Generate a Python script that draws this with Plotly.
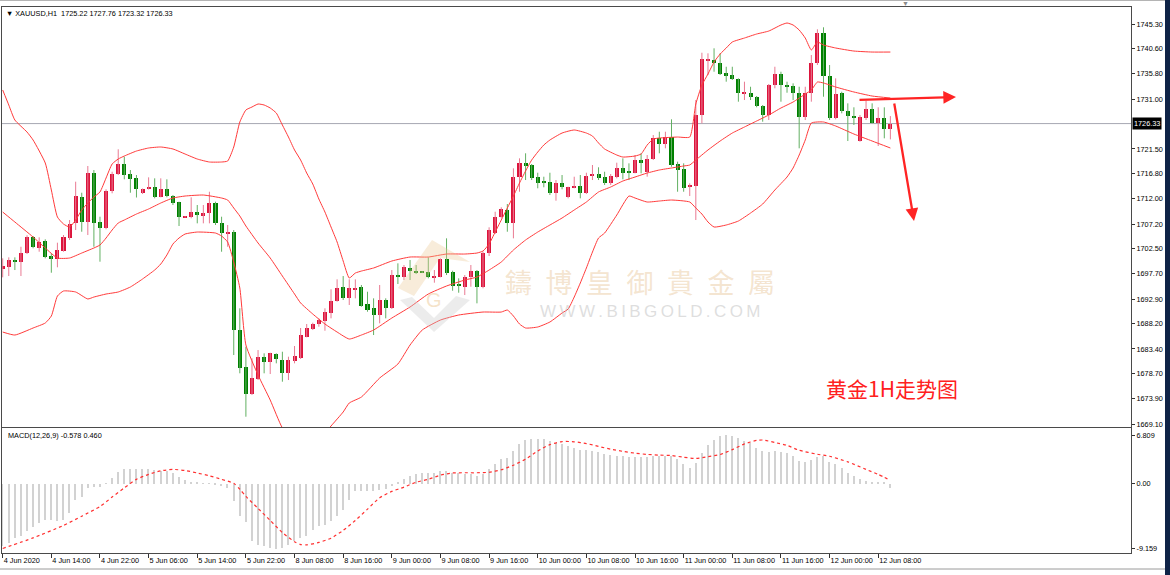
import plotly.graph_objects as go

# ---------------- data (XAUUSD H1) ----------------
opens = [1698.57, 1699.06, 1700.34, 1699.96, 1701.62, 1704.66, 1702.68, 1703.90, 1701.10, 1700.47,
         1702.11, 1704.47, 1707.45, 1712.40, 1707.64, 1716.86, 1707.58, 1706.49, 1713.54, 1716.72,
         1718.63, 1716.72, 1715.90, 1713.05, 1713.87, 1714.19, 1712.40, 1713.87, 1712.53, 1711.33,
         1708.47, 1708.47, 1709.54, 1708.78, 1709.24, 1711.14, 1707.33, 1705.43, 1705.73, 1687.00,
         1679.90, 1674.81, 1677.61, 1681.92, 1680.85, 1682.43, 1681.29, 1678.87, 1681.16, 1681.61,
         1685.73, 1687.25, 1688.15, 1688.78, 1690.30, 1692.59, 1695.14, 1693.04, 1694.76, 1695.14,
         1691.96, 1691.14, 1689.86, 1692.72, 1691.14, 1697.35, 1697.16, 1698.87, 1698.24, 1698.11,
         1698.11, 1697.04, 1697.16, 1700.47, 1698.11, 1695.77, 1695.25, 1697.04, 1698.30, 1695.14,
         1701.73, 1705.54, 1708.47, 1709.86, 1707.45, 1716.21, 1718.76, 1718.44, 1716.09, 1715.14,
         1715.26, 1713.05, 1715.07, 1712.28, 1714.19, 1714.44, 1713.05, 1716.40, 1716.67, 1716.21,
         1714.95, 1716.21, 1717.81, 1717.16, 1716.97, 1719.39, 1717.16, 1719.52, 1723.52, 1722.44,
         1723.71, 1718.63, 1717.62, 1714.19, 1714.44, 1727.96, 1738.44, 1738.44, 1737.93, 1735.91,
         1735.58, 1734.76, 1732.10, 1732.21, 1731.45, 1729.68, 1727.96, 1733.68, 1735.77, 1733.62,
         1733.49, 1732.21, 1727.52, 1732.21, 1737.93, 1743.53, 1735.39, 1727.33, 1732.10, 1728.78,
         1727.77, 1723.07, 1727.33, 1729.05, 1726.50, 1727.33, 1725.22]
highs = [1700.66, 1700.85, 1700.85, 1702.87, 1705.05, 1704.91, 1704.66, 1704.28, 1701.62, 1703.64,
         1705.10, 1707.96, 1715.26, 1713.16, 1718.25, 1717.48, 1708.59, 1713.81, 1717.16, 1721.43,
         1720.02, 1717.48, 1716.53, 1713.96, 1716.09, 1715.90, 1715.90, 1715.71, 1712.72, 1711.45,
         1708.72, 1712.28, 1710.82, 1710.82, 1713.35, 1711.45, 1708.59, 1707.01, 1706.05, 1691.14,
         1683.82, 1681.61, 1683.19, 1682.57, 1682.68, 1682.57, 1682.87, 1681.92, 1683.96, 1687.39,
         1688.15, 1688.40, 1689.23, 1691.14, 1694.76, 1696.66, 1697.29, 1696.66, 1696.66, 1695.58,
         1694.30, 1693.04, 1695.58, 1693.04, 1698.43, 1699.71, 1699.39, 1700.34, 1699.39, 1698.19,
         1700.85, 1698.43, 1700.66, 1704.47, 1698.30, 1696.85, 1697.48, 1699.39, 1698.43, 1701.92,
         1706.57, 1709.54, 1710.38, 1711.01, 1717.81, 1719.71, 1720.67, 1718.63, 1716.97, 1716.21,
         1716.97, 1715.58, 1716.53, 1714.30, 1716.21, 1716.53, 1716.97, 1718.44, 1718.00, 1717.16,
         1716.72, 1718.88, 1719.71, 1718.76, 1720.34, 1720.67, 1720.34, 1724.15, 1724.78, 1724.78,
         1727.14, 1719.07, 1718.76, 1714.95, 1730.82, 1739.83, 1739.72, 1740.67, 1739.72, 1737.16,
         1737.16, 1734.95, 1734.31, 1733.35, 1731.58, 1729.87, 1733.87, 1737.16, 1736.21, 1734.31,
         1734.00, 1733.35, 1733.35, 1739.39, 1744.29, 1744.67, 1737.49, 1734.95, 1732.40, 1730.19,
         1729.43, 1727.96, 1730.69, 1730.19, 1729.43, 1729.43, 1727.76]
lows = [1697.04, 1697.29, 1698.43, 1697.29, 1701.48, 1702.57, 1701.92, 1700.66, 1697.92, 1698.95,
        1701.92, 1704.15, 1706.05, 1705.73, 1705.10, 1702.87, 1700.02, 1706.19, 1713.05, 1716.53,
        1715.71, 1713.16, 1712.25, 1712.91, 1713.77, 1712.09, 1712.28, 1712.28, 1710.82, 1706.82,
        1708.40, 1708.28, 1707.33, 1707.33, 1707.33, 1707.01, 1701.92, 1702.87, 1682.24, 1678.76,
        1670.49, 1674.62, 1677.48, 1678.76, 1678.62, 1680.66, 1677.16, 1677.48, 1680.66, 1681.48,
        1685.61, 1687.00, 1687.63, 1686.87, 1689.23, 1692.40, 1692.72, 1691.77, 1693.04, 1691.44,
        1690.49, 1686.05, 1688.28, 1689.23, 1691.01, 1695.77, 1696.53, 1696.53, 1697.67, 1697.86,
        1696.85, 1696.02, 1697.04, 1697.48, 1694.49, 1694.11, 1693.67, 1695.25, 1692.09, 1694.95,
        1701.10, 1705.29, 1708.28, 1705.73, 1704.47, 1713.35, 1715.58, 1715.58, 1714.00, 1714.19,
        1712.72, 1711.64, 1713.81, 1712.09, 1714.00, 1712.09, 1712.91, 1715.58, 1715.58, 1714.63,
        1714.63, 1715.90, 1715.71, 1715.58, 1716.86, 1716.86, 1716.21, 1719.39, 1720.67, 1721.62,
        1718.11, 1713.35, 1713.35, 1712.53, 1707.96, 1726.38, 1735.58, 1736.21, 1735.58, 1734.31,
        1734.63, 1730.50, 1730.82, 1730.82, 1729.43, 1726.69, 1727.01, 1733.05, 1730.50, 1732.21,
        1730.82, 1721.62, 1727.01, 1730.50, 1737.49, 1731.45, 1727.01, 1727.14, 1728.29, 1723.01,
        1726.06, 1722.88, 1727.01, 1726.38, 1722.06, 1723.52, 1723.32]
closes = [1699.20, 1700.34, 1700.02, 1701.62, 1704.66, 1702.76, 1703.83, 1700.97, 1700.47, 1702.24,
          1704.66, 1707.20, 1712.53, 1707.64, 1716.86, 1707.33, 1706.49, 1713.54, 1716.72, 1718.63,
          1716.53, 1715.77, 1713.81, 1713.83, 1714.19, 1712.40, 1713.87, 1712.53, 1711.26, 1708.59,
          1708.72, 1709.54, 1708.91, 1709.35, 1711.14, 1707.33, 1705.54, 1705.67, 1687.00, 1679.71,
          1674.81, 1677.80, 1681.92, 1680.85, 1682.57, 1681.42, 1678.87, 1681.29, 1682.05, 1686.05,
          1687.33, 1688.15, 1688.91, 1690.49, 1692.59, 1694.95, 1693.04, 1694.95, 1694.95, 1691.58,
          1690.81, 1689.86, 1692.72, 1691.14, 1697.48, 1697.16, 1699.06, 1698.24, 1698.00, 1697.92,
          1697.04, 1697.29, 1700.47, 1697.81, 1695.39, 1695.39, 1697.16, 1698.30, 1695.25, 1701.73,
          1706.05, 1708.59, 1710.00, 1707.45, 1716.21, 1718.88, 1718.44, 1715.90, 1715.07, 1715.07,
          1713.05, 1715.07, 1714.30, 1714.19, 1714.44, 1713.05, 1716.34, 1716.67, 1715.90, 1714.95,
          1716.34, 1717.81, 1716.97, 1717.05, 1719.39, 1718.76, 1719.52, 1723.52, 1722.44, 1723.83,
          1718.44, 1717.48, 1714.00, 1714.63, 1727.96, 1738.57, 1738.69, 1737.93, 1735.77, 1735.58,
          1734.76, 1732.10, 1732.40, 1731.45, 1729.68, 1727.96, 1733.68, 1735.77, 1733.68, 1733.35,
          1732.21, 1727.52, 1732.21, 1737.93, 1743.53, 1735.39, 1727.33, 1731.96, 1728.78, 1727.71,
          1727.33, 1727.52, 1729.05, 1726.50, 1727.33, 1725.24, 1726.33]

tick_bars = [0, 8, 16, 24, 32, 40, 48, 56, 64, 72, 80, 88, 96, 104, 112, 120, 128, 136, 144]
tick_labels = ["4 Jun 2020", "4 Jun 14:00", "4 Jun 22:00", "5 Jun 06:00", "5 Jun 14:00",
               "5 Jun 22:00", "8 Jun 08:00", "8 Jun 16:00", "9 Jun 00:00", "9 Jun 08:00",
               "9 Jun 16:00", "10 Jun 00:00", "10 Jun 08:00", "10 Jun 16:00", "11 Jun 00:00",
               "11 Jun 08:00", "11 Jun 16:00", "12 Jun 00:00", "12 Jun 08:00"]

price_ticks = [1745.30, 1740.60, 1735.80, 1731.00, 1721.50, 1716.80, 1712.00, 1707.20,
               1702.50, 1697.70, 1692.90, 1688.20, 1683.40, 1678.70, 1673.90, 1669.10]
price_tick_text = ["1745.30", "1740.60", "1735.80", "1731.00", "1721.50", "1716.80", "1712.00",
                   "1707.20", "1702.50", "1697.70", "1692.90", "1688.20", "1683.40", "1678.70",
                   "1673.90", "1669.10"]

# Bollinger bands, read at selected bars
bb_up_bar = [0, 1, 2, 4, 5, 7, 8, 9, 10, 11, 12, 13, 14, 15, 16, 17, 18, 19, 20, 22, 24, 26, 28, 30,
             32, 34, 36, 37, 38, 39, 40, 41, 42, 43, 44, 45, 46, 47, 48, 49, 50, 51, 52, 53, 54, 55,
             56, 57, 58, 59, 61, 64, 67, 70, 73, 76, 78, 79, 80, 81, 82, 83, 84, 85, 86, 87, 88, 89,
             90, 92, 94, 96, 97, 98, 99, 101, 102, 104, 105, 106, 107, 108, 111, 113, 114, 115, 116,
             117, 118, 119, 120, 122, 124, 126, 128, 129, 130, 131, 132, 133, 134, 135, 137, 140,
             143, 146]
bb_up_val = [1732.73, 1729.87, 1727.01, 1724.72, 1723.20, 1718.82, 1713.68, 1708.53, 1707.20,
             1706.63, 1707.96, 1709.86, 1711.20, 1712.34, 1713.30, 1715.96, 1718.63, 1719.58,
             1720.15, 1721.10, 1721.68, 1721.87, 1721.49, 1720.53, 1719.58, 1719.01, 1719.01,
             1719.20, 1721.87, 1726.63, 1728.92, 1729.49, 1730.06, 1729.87, 1729.30, 1728.34,
             1726.06, 1723.77, 1721.30, 1719.39, 1716.91, 1714.82, 1711.96, 1709.48, 1706.63,
             1703.77, 1700.15, 1696.91, 1697.86, 1698.24, 1698.82, 1700.15, 1700.91, 1700.91,
             1701.48, 1701.48, 1701.67, 1702.05, 1703.39, 1705.67, 1707.96, 1710.25, 1712.53,
             1715.01, 1717.30, 1719.39, 1720.91, 1722.25, 1723.20, 1724.53, 1725.11, 1724.53,
             1723.96, 1722.63, 1721.49, 1720.34, 1719.96, 1720.15, 1720.53, 1722.25, 1723.39,
             1723.58, 1723.77, 1723.77, 1730.06, 1733.68, 1735.77, 1738.06, 1739.58, 1740.73,
             1741.87, 1742.63, 1743.39, 1743.96, 1745.11, 1745.49, 1745.11, 1744.16, 1742.63,
             1740.35, 1741.87, 1741.30, 1740.73, 1740.15, 1739.96, 1739.96]
bb_mid_bar = [0, 2, 5, 7, 9, 11, 13, 15, 16, 17, 18, 19, 20, 22, 24, 26, 28, 30, 33, 36, 37, 38, 39,
              40, 42, 44, 46, 48, 49, 51, 53, 55, 57, 59, 61, 64, 67, 70, 73, 76, 78, 80, 82, 84,
              86, 88, 90, 92, 94, 96, 98, 100, 102, 104, 106, 108, 110, 112, 113, 114, 116, 118,
              120, 122, 124, 126, 128, 130, 132, 133, 134, 135, 137, 140, 143, 146]
bb_mid_val = [1709.48, 1707.58, 1704.72, 1702.63, 1700.72, 1700.72, 1701.67, 1702.63, 1703.20,
              1704.53, 1706.06, 1707.39, 1707.96, 1709.10, 1710.06, 1711.20, 1712.15, 1712.53,
              1712.72, 1712.15, 1711.77, 1710.25, 1708.72, 1706.82, 1703.58, 1700.72, 1697.29,
              1693.86, 1692.15, 1690.05, 1688.15, 1686.62, 1685.29, 1686.05, 1687.00, 1689.29,
              1691.39, 1693.86, 1695.39, 1696.53, 1697.10, 1698.43, 1699.96, 1702.25, 1704.15,
              1705.67, 1707.01, 1708.34, 1709.87, 1711.39, 1713.30, 1714.25, 1715.39, 1716.15,
              1716.91, 1717.49, 1717.87, 1718.25, 1718.44, 1719.39, 1721.30, 1723.01, 1724.53,
              1725.68, 1726.82, 1727.96, 1729.30, 1730.44, 1731.96, 1732.72, 1734.25, 1734.06,
              1733.30, 1732.35, 1731.58, 1731.20]
bb_low_bar = [0, 2, 5, 7, 8, 9, 10, 12, 14, 15, 17, 19, 21, 23, 25, 26, 27, 28, 29, 30, 32, 35, 36,
              37, 38, 39, 40, 42, 44, 46, 48, 50, 52, 54, 56, 57, 59, 62, 65, 67, 69, 72, 75, 79,
              82, 83, 84, 85, 86, 88, 90, 92, 93, 94, 95, 96, 97, 98, 99, 101, 103, 104, 106, 108,
              110, 113, 114, 115, 116, 117, 119, 121, 123, 125, 127, 129, 130, 131, 132, 133, 135,
              137, 140, 143, 146]
bb_low_val = [1686.62, 1686.05, 1687.39, 1688.34, 1689.67, 1693.48, 1694.44, 1694.25, 1692.92,
              1693.29, 1693.86, 1694.25, 1695.20, 1696.72, 1698.44, 1699.58, 1701.29, 1703.39,
              1704.53, 1705.29, 1705.67, 1705.48, 1704.91, 1703.77, 1699.96, 1695.01, 1684.15,
              1678.43, 1673.67, 1668.34, 1665.67, 1664.71, 1666.05, 1668.72, 1671.39, 1673.10,
              1674.24, 1677.86, 1680.53, 1684.15, 1687.00, 1688.91, 1689.86, 1690.43, 1690.43,
              1690.81, 1689.67, 1688.15, 1687.39, 1687.58, 1688.53, 1690.24, 1691.00, 1693.29,
              1695.96, 1698.82, 1701.86, 1704.53, 1705.48, 1708.91, 1712.53, 1712.15, 1711.39,
              1711.58, 1711.77, 1711.39, 1710.25, 1709.10, 1707.58, 1706.63, 1707.01, 1707.77,
              1709.29, 1711.01, 1713.68, 1716.15, 1717.87, 1720.34, 1723.20, 1726.44, 1726.63,
              1725.87, 1724.34, 1723.01, 1721.68]

# MACD(12,26,9): main line drawn as histogram, signal as dotted line
macd_hist = [-8.8, -8.4, -7.7, -7.4, -6.7, -6.1, -5.5, -5.1, -5.1, -5.3,
             -5.1, -4.2, -2.3, -1.9, -0.66, -0.43, -0.43, -0.05, 0.74, 1.67,
             2.0, 2.1, 2.1, 2.1, 2.0, 1.9, 1.8, 1.8, 1.44, 0.97,
             0.5, 0.27, 0.13, 0.04, 0.02, -0.2, -0.34, -0.66, -2.5, -4.6,
             -5.4, -8.1, -8.6, -8.8, -9.06, -9.159, -9.06, -8.6, -8.1, -7.7,
             -7.4, -6.5, -6.0, -5.8, -5.3, -4.6, -3.7, -2.3, -1.1, -1.1,
             -1.0, -1.0, -0.9, -0.8, -0.4, 0.15, 0.64, 1.06, 1.34, 1.44,
             1.53, 1.53, 1.76, 1.76, 1.53, 1.44, 1.30, 1.30, 1.06, 1.30,
             2.04, 2.79, 3.44, 3.68, 4.61, 5.54, 6.10, 6.34, 6.34, 6.34,
             6.01, 5.73, 5.54, 5.31, 5.08, 4.70, 4.70, 4.56, 4.47, 4.14,
             4.05, 3.96, 3.86, 3.72, 3.72, 3.77, 3.77, 3.86, 3.86, 3.86,
             3.86, 3.44, 2.70, 2.14, 2.93, 4.38, 5.40, 6.20, 6.66, 6.809,
             6.71, 6.39, 6.01, 5.68, 5.08, 4.56, 4.47, 4.56, 4.47, 4.33,
             3.96, 3.21, 3.07, 3.40, 3.77, 3.86, 2.98, 2.70, 2.14, 1.44,
             1.06, 0.64, 0.41, 0.18, 0.18, 0.13, -0.578]
signal_bar = [0, 5, 10, 13, 16, 18, 20, 22, 24, 26, 28, 30, 32, 34, 36, 38, 39, 40, 42, 44, 46, 48,
              49, 50, 52, 54, 56, 58, 60, 62, 64, 66, 68, 70, 72, 74, 76, 78, 80, 82, 84, 86, 88,
              90, 92, 94, 96, 98, 100, 102, 104, 106, 108, 110, 112, 114, 116, 118, 120, 122, 124,
              125, 127, 129, 131, 134, 136, 139, 142, 144, 146]
signal_val = [-9.15, -7.66, -5.9, -4.6, -3.23, -1.9, -0.6, 0.6, 1.3, 1.8, 2.0, 1.85, 1.5, 1.1, 0.6,
              0.04, -0.8, -1.8, -3.5, -5.2, -6.9, -8.2, -8.6, -8.65, -8.3, -7.7, -6.6, -5.2, -3.6,
              -2.0, -1.1, -0.5, 0.2, 0.6, 1.2, 1.5, 1.53, 1.53, 1.6, 1.95, 2.6, 3.45, 4.6, 5.5,
              5.93, 5.9, 5.65, 5.25, 4.85, 4.55, 4.3, 4.12, 4.02, 3.96, 3.72, 3.55, 3.8, 4.1, 4.8,
              5.6, 6.1, 6.15, 5.8, 5.4, 4.7, 4.14, 3.86, 3.07, 2.0, 1.3, 0.46]
macd_ticks = [6.809, 0.0, -9.159]
macd_tick_text = ["6.809", "0.00", "-9.159"]

last_price = 1726.33

# ---------------- geometry ----------------
W, H = 1170, 575
ML, MR, MT, MB = 2, 39, 7, 22
PW, PH = W - ML - MR, H - MT - MB
BAR_PX = 6.08
X0_PX = 2.7
xmin = -(X0_PX - ML) / BAR_PX
xmax = xmin + PW / BAR_PX


def fx(px):
    return (px - ML) / PW


def fy(py):
    return 1 - (py - MT) / PH


MAIN_RANGE = [1668.53, 1748.54]
MACD_RANGE = [-9.79, 7.845]

RED = "#dc143c"
GREEN = "#008000"
RED_WICK = "#e97a92"
GREEN_WICK = "#62b062"
BAND = "#ff3a3a"
FONT = "Liberation Sans"
TF = dict(family=FONT, size=7.3, color="#000000")

n = len(opens)
idx = list(range(n))
up = [i for i in idx if closes[i] >= opens[i]]
dn = [i for i in idx if closes[i] < opens[i]]


def wicks(ids):
    xs, ys = [], []
    for i in ids:
        xs += [i, i, None]
        ys += [lows[i], highs[i], None]
    return xs, ys


def bodies(ids):
    base = [min(opens[i], closes[i]) for i in ids]
    size = [max(abs(closes[i] - opens[i]), 0.2) for i in ids]
    return base, size


fig = go.Figure()

for ids, wc in ((up, RED_WICK), (dn, GREEN_WICK)):
    wx, wy = wicks(ids)
    fig.add_trace(go.Scatter(x=wx, y=wy, mode="lines", line=dict(color=wc, width=1),
                             xaxis="x", yaxis="y", hoverinfo="skip"))
for ids, bc in ((up, RED), (dn, GREEN)):
    b, s = bodies(ids)
    fig.add_trace(go.Bar(x=ids, y=s, base=b, width=0.66, marker=dict(color=bc, line=dict(width=0)),
                         xaxis="x", yaxis="y"))

for bx, bv in ((bb_up_bar, bb_up_val), (bb_mid_bar, bb_mid_val), (bb_low_bar, bb_low_val)):
    fig.add_trace(go.Scatter(x=bx, y=bv, mode="lines",
                             line=dict(color=BAND, width=1, shape="spline", smoothing=0.5),
                             xaxis="x", yaxis="y"))

fig.add_trace(go.Bar(x=idx, y=macd_hist, width=0.24, marker=dict(color="#d2d2d2", line=dict(width=0)),
                     xaxis="x2", yaxis="y2"))
fig.add_trace(go.Scatter(x=signal_bar, y=signal_val, mode="lines",
                         line=dict(color="#ff3030", width=1.2, dash="dot", shape="spline", smoothing=0.6),
                         xaxis="x2", yaxis="y2"))

axis_common = dict(showgrid=False, zeroline=False, showline=True, mirror=True,
                   linecolor="#4a4a4a", linewidth=1)

fig.update_layout(
    width=W, height=H, margin=dict(l=ML, r=MR, t=MT, b=MB),
    paper_bgcolor="white", plot_bgcolor="white", showlegend=False, barmode="overlay",
    bargap=0,
    xaxis=dict(domain=[0, 1], range=[xmin, xmax], anchor="y", showticklabels=False, ticks="",
               **axis_common),
    yaxis=dict(domain=[fy(427), 1], range=MAIN_RANGE, side="right", anchor="x",
               tickvals=price_ticks, ticktext=price_tick_text, ticks="outside", ticklen=3,
               tickcolor="#333333", tickfont=TF, **axis_common),
    xaxis2=dict(domain=[0, 1], range=[xmin, xmax], anchor="y2", tickvals=tick_bars,
                ticktext=tick_labels, ticks="outside", ticklen=4, tickcolor="#333333",
                ticklabelposition="outside right", tickangle=0, tickfont=TF, **axis_common),
    yaxis2=dict(domain=[0, fy(428)], range=MACD_RANGE, side="right", anchor="x2",
                tickvals=macd_ticks, ticktext=macd_tick_text, ticks="outside", ticklen=3,
                tickcolor="#333333", tickfont=TF, **axis_common),
)

shapes = [
    dict(type="line", xref="x domain", x0=0, x1=1, yref="y", y0=last_price, y1=last_price,
         line=dict(color="#a6a8b2", width=1), layer="below"),
    dict(type="rect", xref="paper", yref="paper", x0=fx(1165), x1=fx(1171), y0=fy(576), y1=fy(-1),
         fillcolor="#0f2347", line=dict(width=0)),
    dict(type="line", xref="paper", yref="paper", x0=fx(0), x1=fx(1165), y0=fy(569), y1=fy(569),
         line=dict(color="#9a9a9a", width=1)),
    dict(type="line", xref="paper", yref="paper", x0=fx(0), x1=fx(1165), y0=fy(0.5), y1=fy(0.5),
         line=dict(color="#b4b4b4", width=1)),
    # faint logo of the watermark
    dict(type="path", xref="paper", yref="paper",
         path=f"M {fx(432)} {fy(240)} L {fx(398)} {fy(288)} L {fx(414)} {fy(296)} L {fx(440)} {fy(258)} L {fx(470)} {fy(262)} Z",
         fillcolor="rgba(236,200,150,0.35)", line=dict(width=0)),
    dict(type="path", xref="paper", yref="paper",
         path=f"M {fx(400)} {fy(300)} L {fx(434)} {fy(332)} L {fx(470)} {fy(300)} L {fx(456)} {fy(296)} L {fx(434)} {fy(318)} L {fx(412)} {fy(297)} Z",
         fillcolor="rgba(200,200,200,0.35)", line=dict(width=0)),
]
fig.update_layout(shapes=shapes)

NB = "\u00a0"
ann = [
    dict(x=fx(4), y=fy(14), xanchor="left",
         text="\u25bc" + NB + "XAUUSD,H1" + NB * 2 + "1725.22 1727.76 1723.32 1726.33", font=TF),
    dict(x=fx(6), y=fy(435), xanchor="left", text="MACD(12,26,9) -0.578 0.460", font=TF),
    dict(x=fx(905), y=fy(3), xanchor="center", text="\u25bc",
         font=dict(family=FONT, size=7, color="#8a8a8a")),
    dict(x=fx(892), y=fy(388), xanchor="center", text="黄金1H走势图",
         font=dict(family="Noto Sans CJK SC", size=21, color="#ff2020")),
    dict(x=fx(640), y=fy(281), xanchor="center",
         text="\u2002".join("鑄博皇御貴金屬"),
         font=dict(family="Noto Sans CJK TC", size=27, color="rgba(232,196,150,0.45)")),
    dict(x=fx(650), y=fy(311), xanchor="center",
         text="\u2009".join("WWW.BIBGOLD.COM"),
         font=dict(family=FONT, size=17, color="rgba(190,190,190,0.5)")),
    dict(x=fx(434), y=fy(300), xanchor="center", text="G",
         font=dict(family=FONT, size=20, color="rgba(236,200,150,0.5)")),
]
for a in ann:
    a.update(xref="paper", yref="paper", yanchor="middle", showarrow=False)

ann.append(dict(x=fx(1132), y=last_price, xref="paper", yref="y", xanchor="left", yanchor="middle",
                text="1726.33", showarrow=False, bgcolor="#000000", borderpad=1,
                font=dict(family=FONT, size=7.3, color="#ffffff")))
# analyst arrows
ann.append(dict(x=fx(956), y=fy(97), xref="paper", yref="paper", ax=-98, ay=3, showarrow=True,
                arrowhead=2, arrowsize=1.1, arrowwidth=2.3, arrowcolor="#ff2424", text=""))
ann.append(dict(x=fx(914), y=fy(221), xref="paper", yref="paper", ax=-20, ay=-119, showarrow=True,
                arrowhead=2, arrowsize=1.1, arrowwidth=2.3, arrowcolor="#ff2424", text=""))
fig.update_layout(annotations=ann)

fig.write_html("out.html", config={"displayModeBar": False},
               post_script="document.body.style.margin='0px';document.body.style.overflow='hidden';")
